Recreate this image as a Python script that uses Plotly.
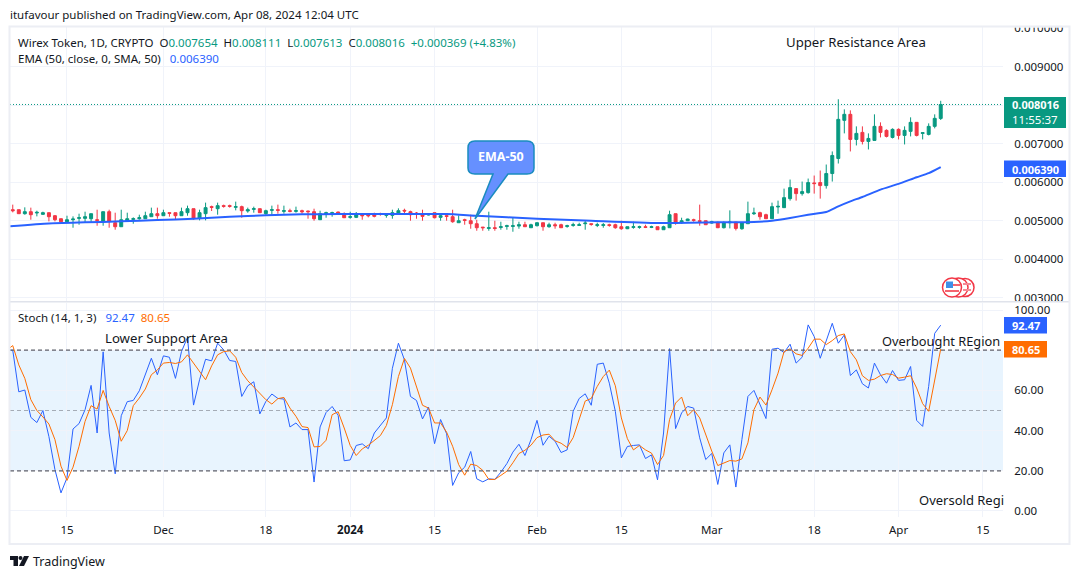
#!/usr/bin/env python3
import pandas as pd
import plotly.graph_objects as go
from plotly.subplots import make_subplots

W, H = 1080, 579
FONT = "Noto Sans"
GREEN = "#089981"
RED = "#f23645"
BLUE = "#2962ff"
ORANGE = "#ff6d00"
TEXT = "#131722"
GRID = "#f0f3fa"

# daily candles, prices in thousandths
open_k = [
    5.286, 5.286, 5.182, 5.234, 5.2, 5.165, 5.208, 5.13, 5.052, 4.974,
    5.026, 5.061, 5.061, 5.052, 5.026, 4.983, 5.234, 4.948, 4.844, 4.991,
    5.035, 5.052, 5.052, 5.104, 5.182, 5.13, 5.208, 5.208, 5.13, 5.208,
    5.312, 5.061, 5.182, 5.365, 5.312, 5.391, 5.391, 5.347, 5.365, 5.252,
    5.295, 5.312, 5.182, 5.269, 5.286, 5.243, 5.26, 5.243, 5.26, 5.252,
    5.234, 5.026, 5.174, 5.182, 5.226, 5.182, 5.087, 5.087, 5.148, 5.148,
    5.165, 5.182, 5.139, 5.139, 5.182, 5.269, 5.234, 5.2, 5.182, 5.148,
    5.208, 5.087, 5.13, 5.104, 4.948, 5.026, 5.0, 4.922, 4.835, 4.8,
    4.818, 4.826, 4.852, 4.852, 4.861, 4.896, 4.818, 4.87, 4.948, 4.844,
    4.896, 4.896, 4.852, 4.878, 4.878, 4.922, 4.922, 4.878, 4.878, 4.896,
    4.896, 4.844, 4.792, 4.826, 4.826, 4.844, 4.826, 4.844, 4.766, 4.818,
    5.182, 4.948, 5.0, 5.026, 5.0, 5.0, 4.939, 4.957, 4.818, 4.948,
    4.965, 4.792, 4.922, 5.182, 5.208, 5.156, 5.052, 5.356, 5.339, 5.573,
    5.833, 5.703, 5.729, 5.981, 5.99, 5.911, 6.224, 6.615, 7.604, 7.76,
    7.109, 7.292, 7.057, 7.083, 7.448, 7.344, 7.161, 7.37, 7.213, 7.318,
    7.552, 7.265, 7.239, 7.448, 7.654,
]
high_k = [
    5.417, 5.286, 5.347, 5.339, 5.26, 5.234, 5.208, 5.148, 5.052, 5.13,
    5.113, 5.182, 5.234, 5.182, 5.286, 5.234, 5.286, 5.208, 5.286, 5.208,
    5.087, 5.156, 5.234, 5.339, 5.339, 5.286, 5.208, 5.208, 5.339, 5.391,
    5.312, 5.286, 5.469, 5.391, 5.469, 5.417, 5.417, 5.495, 5.391, 5.339,
    5.365, 5.312, 5.286, 5.391, 5.417, 5.391, 5.312, 5.365, 5.286, 5.26,
    5.312, 5.26, 5.234, 5.234, 5.234, 5.217, 5.234, 5.226, 5.2, 5.2,
    5.208, 5.208, 5.2, 5.286, 5.321, 5.312, 5.26, 5.226, 5.286, 5.2,
    5.208, 5.182, 5.174, 5.286, 5.139, 5.052, 5.156, 5.026, 4.835, 5.234,
    5.0, 4.974, 4.896, 5.078, 4.974, 4.974, 4.922, 4.957, 4.948, 4.948,
    4.948, 4.922, 4.896, 4.948, 4.948, 5.009, 4.922, 4.948, 4.939, 4.922,
    4.922, 5.0, 4.844, 4.974, 4.87, 4.896, 4.87, 4.844, 4.87, 5.26,
    5.182, 5.078, 5.052, 5.052, 5.417, 5.0, 5.0, 4.974, 4.983, 5.269,
    4.965, 4.965, 5.495, 5.339, 5.234, 5.182, 5.469, 5.521, 5.833, 6.068,
    5.833, 6.016, 6.094, 6.172, 6.302, 6.458, 6.797, 8.151, 7.89, 7.864,
    7.448, 7.448, 7.266, 7.76, 7.552, 7.37, 7.396, 7.396, 7.448, 7.682,
    7.552, 7.292, 7.526, 7.76, 8.111,
]
low_k = [
    5.217, 5.182, 5.156, 5.026, 5.113, 5.156, 4.983, 4.983, 4.974, 4.957,
    4.818, 4.896, 4.957, 4.957, 4.87, 4.87, 4.818, 4.766, 4.844, 4.983,
    4.922, 5.026, 5.052, 5.104, 5.052, 5.13, 5.104, 5.043, 5.13, 5.13,
    5.026, 5.009, 5.009, 5.252, 5.156, 5.339, 5.339, 5.269, 5.078, 5.208,
    5.208, 5.208, 5.156, 5.156, 5.182, 5.182, 5.217, 5.208, 5.182, 5.052,
    5.0, 5.026, 5.078, 5.104, 5.156, 5.069, 5.052, 5.069, 5.026, 5.087,
    5.087, 5.13, 5.078, 5.052, 5.165, 5.182, 5.0, 5.052, 5.0, 5.139,
    5.061, 5.0, 5.0, 4.948, 4.948, 4.896, 4.792, 4.74, 4.74, 4.74,
    4.74, 4.766, 4.766, 4.714, 4.792, 4.844, 4.818, 4.852, 4.74, 4.818,
    4.792, 4.818, 4.818, 4.844, 4.87, 4.766, 4.87, 4.835, 4.818, 4.844,
    4.792, 4.766, 4.783, 4.792, 4.792, 4.809, 4.809, 4.766, 4.766, 4.818,
    4.896, 4.922, 4.991, 4.974, 4.87, 4.896, 4.922, 4.809, 4.8, 4.8,
    4.748, 4.766, 4.922, 5.148, 5.026, 5.052, 5.052, 5.182, 5.339, 5.521,
    5.521, 5.651, 5.703, 5.703, 5.573, 5.833, 6.016, 6.484, 7.266, 6.797,
    6.953, 6.979, 6.849, 7.083, 7.161, 7.161, 7.135, 7.109, 6.979, 7.187,
    7.187, 7.109, 7.213, 7.396, 7.613,
]
close_k = [
    5.26, 5.182, 5.234, 5.156, 5.217, 5.208, 5.104, 5.026, 4.974, 5.026,
    5.043, 5.078, 5.104, 5.182, 5.009, 5.234, 4.983, 4.844, 5.026, 5.052,
    5.052, 5.078, 5.13, 5.182, 5.13, 5.208, 5.191, 5.13, 5.234, 5.312,
    5.052, 5.208, 5.339, 5.347, 5.391, 5.373, 5.373, 5.365, 5.26, 5.286,
    5.312, 5.208, 5.26, 5.286, 5.269, 5.26, 5.243, 5.26, 5.234, 5.234,
    5.052, 5.182, 5.208, 5.208, 5.2, 5.078, 5.104, 5.148, 5.13, 5.13,
    5.113, 5.165, 5.156, 5.208, 5.26, 5.252, 5.156, 5.182, 5.113, 5.165,
    5.078, 5.13, 5.113, 4.974, 5.0, 5.009, 4.922, 4.818, 4.818, 4.818,
    4.8, 4.844, 4.87, 4.87, 4.896, 4.844, 4.896, 4.948, 4.844, 4.896,
    4.87, 4.818, 4.87, 4.896, 4.896, 4.939, 4.905, 4.896, 4.896, 4.878,
    4.818, 4.792, 4.844, 4.844, 4.844, 4.826, 4.844, 4.766, 4.844, 5.156,
    4.948, 5.0, 5.043, 5.009, 4.983, 4.896, 4.974, 4.818, 4.939, 4.965,
    4.8, 4.939, 5.182, 5.2, 5.104, 5.052, 5.365, 5.373, 5.599, 5.859,
    5.703, 5.755, 5.99, 5.963, 5.911, 6.224, 6.693, 7.63, 7.76, 7.109,
    7.266, 7.057, 7.135, 7.448, 7.292, 7.187, 7.37, 7.213, 7.344, 7.552,
    7.213, 7.283, 7.448, 7.656, 8.016,
]

# EMA read at these days after Nov 5 (the line runs in from the left edge)
ema_at = [0, 7, 13, 19, 25, 31, 37, 43, 49, 55, 61, 67, 73, 78, 88, 97, 108, 118,
          124, 127, 130, 133, 136, 138, 140, 142, 145, 148, 151, 153, 155]
ema_k = [4.853, 4.93, 4.957, 4.983, 5.017, 5.052, 5.104, 5.139, 5.165, 5.174, 5.174, 5.174, 5.174,
         5.13, 5.052, 5.0, 4.939, 4.957, 4.965, 5.0, 5.07, 5.156, 5.226, 5.373, 5.503, 5.616,
         5.807, 5.955, 6.128, 6.233, 6.39]

# stochastic, one value per day from Nov 5
stoch_k = [
    80, 80, 59.3, 60.2, 46.6, 44, 50, 37, 20.6, 9, 16.5,
    40.8, 43.5, 50.4, 62.5, 38.8, 79.2, 38.8, 18.5, 47.4, 54.4,
    55, 59.8, 67.8, 76, 67.8, 77.2, 76.5, 66, 79.3, 86.4,
    52.7, 65.3, 75.5, 74.7, 83.5, 80.2, 74.9, 74.4, 57, 62.3,
    64.3, 48.3, 54.5, 58.2, 56, 55.7, 41.8, 43.8, 40.5, 40.5,
    14.4, 41.8, 49, 52, 47.6, 25, 25.4, 32.6, 33.4, 31,
    38.8, 42.5, 46.3, 71, 83.5, 75.2, 57, 55, 45.8, 51.7,
    33.5, 45.5, 38.4, 12.7, 19, 21.8, 29.6, 16, 14.5, 16,
    15.7, 19.3, 23.6, 29.3, 33.2, 27.6, 35.5, 45.1, 32.7, 37.2,
    34.7, 29.1, 30.4, 49.6, 56, 58.3, 52.6, 73, 73.6, 63.6,
    49.6, 26.4, 32.1, 32.6, 32.9, 26.1, 27.9, 15.5, 38.8, 80.8,
    41, 48.8, 52, 51.2, 36.4, 25.6, 28.6, 13.2, 28.9, 32.9,
    11.9, 35.5, 57, 60, 52.9, 46, 80.5, 81, 78.8, 83,
    73.6, 76.5, 92.6, 86.8, 76, 84.3, 93.4, 83.5, 87.6, 67.4,
    70.2, 63.3, 61.2, 73.6, 67.8, 63.6, 69.9, 65, 65.3, 71.9,
    45.1, 42.1, 62, 88.4, 92.47,
]
stoch_d = [
    80, 82.3, 72.7, 66, 55.4, 50, 46.8, 43.3, 35.5, 22.3, 15.2,
    21.8, 32.2, 44.6, 52.4, 50.7, 60, 52, 45.1, 34.7, 40,
    52.4, 56.2, 60.7, 67.8, 70.2, 73.6, 73.9, 73.4, 74.2, 77.7,
    73.6, 69.9, 65.3, 72.2, 77.7, 79.3, 79.7, 76.5, 68.9, 64.8,
    61.7, 58.3, 55.4, 53.2, 55.9, 56.5, 51.2, 47.1, 42, 41.5,
    31.9, 32.1, 35.2, 47.9, 49.4, 41.3, 32.6, 27.6, 30.9, 32.7,
    35, 37.5, 42.5, 52.9, 66.9, 75.9, 71.1, 62, 52.6, 51.2,
    43.8, 43.8, 39.2, 32.2, 23.1, 17.8, 23.3, 22.6, 20.2, 15.7,
    15.7, 17.7, 19.8, 24, 28.6, 30.2, 32.7, 36.5, 37.8, 38.2,
    34.9, 33.7, 31.6, 36.5, 45.5, 54.7, 56, 62, 66.9, 70.1,
    62.3, 46.3, 36, 30.4, 32.6, 30.4, 28.8, 23.1, 27.6, 45.5,
    53.7, 56.7, 47.4, 50.4, 46.3, 38, 29.8, 22.6, 23.9, 25.1,
    24.8, 25.9, 33.9, 50.4, 56.7, 52.7, 60.3, 68.6, 79.3, 80.7,
    78.2, 77.4, 81, 85.5, 85.5, 82.8, 84.8, 87.3, 88.1, 79.3,
    75.2, 67.3, 65, 65.6, 67.4, 68.3, 67.9, 66.1, 66.6, 67.3,
    61.2, 53.4, 49.6, 65.3, 80.65,
]

dates = pd.date_range("2023-11-06", periods=len(close_k), freq="D")
line_dates = pd.date_range("2023-11-05", periods=len(stoch_k), freq="D")

x_tick_dates = ["2023-11-15", "2023-12-01", "2023-12-18", "2024-01-01", "2024-01-15", "2024-02-01",
                "2024-02-15", "2024-03-01", "2024-03-18", "2024-04-01", "2024-04-15"]
x_tick_labels = ["15", "Dec", "18", "<b>2024</b>", "15", "Feb", "15", "Mar", "18", "Apr", "15"]
# labels under the price tags stay empty, their gridlines stay
price_ticks = [0.003, 0.004, 0.005, 0.006, 0.007, 0.008, 0.009, 0.010]
price_tick_labels = ["0.003000", "0.004000", "0.005000", "0.006000", "0.007000", "", "0.009000", "0.010000"]
stoch_ticks = [0, 20, 40, 60, 80, 100]
stoch_tick_labels = ["0.00", "20.00", "40.00", "60.00", "", "100.00"]


def k2p(vals):
    return [v / 1000 for v in vals]


def px(x):
    return x / W


def py(y):
    return 1 - y / H


def label(x, y, text, size=11.5, color=TEXT, anchor="left"):
    return dict(xref="paper", yref="paper", x=px(x - 1), y=py(y), text=text, showarrow=False,
                xanchor=anchor, yanchor="middle", align="left", borderpad=0,
                font=dict(family=FONT, size=size, color=color))


def rect(x0, y0, x1, y1, fill=None, line=None, lw=1):
    return dict(type="rect", xref="paper", yref="paper", x0=px(x0), x1=px(x1), y0=py(y0), y1=py(y1),
                fillcolor=fill or "rgba(0,0,0,0)", line=dict(color=line or "rgba(0,0,0,0)", width=lw if line else 0),
                layer="above")


def path(points, fill, line=None, lw=1):
    d = "M " + " L ".join(f"{px(x):.5f} {py(y):.5f}" for x, y in points) + " Z"
    return dict(type="path", xref="paper", yref="paper", path=d, fillcolor=fill,
                line=dict(color=line or "rgba(0,0,0,0)", width=lw if line else 0), layer="above")


def circle(cx, cy, r, fill, line=None, lw=1):
    return dict(type="circle", xref="paper", yref="paper", x0=px(cx - r), x1=px(cx + r), y0=py(cy + r), y1=py(cy - r),
                fillcolor=fill, line=dict(color=line or "rgba(0,0,0,0)", width=lw if line else 0), layer="above")


def span(text, color):
    return f'<span style="color:{color}">{text}</span>'


fig = make_subplots(rows=2, cols=1, shared_xaxes=True)

fig.add_trace(go.Candlestick(
    x=dates, open=k2p(open_k), high=k2p(high_k), low=k2p(low_k), close=k2p(close_k),
    increasing=dict(line=dict(color=GREEN, width=1), fillcolor=GREEN),
    decreasing=dict(line=dict(color=RED, width=1), fillcolor=RED),
    whiskerwidth=0, showlegend=False, hoverinfo="skip",
), row=1, col=1)
fig.add_trace(go.Scatter(
    x=line_dates[ema_at], y=k2p(ema_k), mode="lines",
    line=dict(color=BLUE, width=2, shape="spline", smoothing=0.5), showlegend=False, hoverinfo="skip",
), row=1, col=1)
fig.add_trace(go.Scatter(
    x=line_dates, y=stoch_k, mode="lines", line=dict(color=BLUE, width=1), showlegend=False, hoverinfo="skip",
), row=2, col=1)
fig.add_trace(go.Scatter(
    x=line_dates, y=stoch_d, mode="lines", line=dict(color=ORANGE, width=1), showlegend=False, hoverinfo="skip",
), row=2, col=1)

x_range = ["2023-11-05 13:00", "2024-04-18 08:00"]
x_common = dict(range=x_range, tickmode="array", tickvals=x_tick_dates, ticktext=x_tick_labels,
                domain=[px(10), px(1003)], showgrid=True, gridcolor=GRID, gridwidth=1, zeroline=False,
                showline=False, rangeslider=dict(visible=False), automargin=False)
fig.update_xaxes(**x_common, showticklabels=False, row=1, col=1)
fig.update_xaxes(**x_common, showticklabels=True, ticks="outside", ticklen=2, tickcolor="rgba(0,0,0,0)",
                 tickfont=dict(family=FONT, size=11.5, color=TEXT), row=2, col=1)
fig.update_yaxes(side="right", range=[0.002917, 0.010026], domain=[py(301), py(27)], tickmode="array",
                 tickvals=price_ticks, ticktext=price_tick_labels, showgrid=True, gridcolor=GRID, zeroline=False,
                 showline=False, ticks="outside", ticklen=8, tickcolor="rgba(0,0,0,0)", automargin=False,
                 tickfont=dict(family=FONT, size=11.5, color=TEXT), row=1, col=1)
fig.update_yaxes(side="right", range=[-3, 103.5], domain=[py(517), py(303)], tickmode="array",
                 tickvals=stoch_ticks, ticktext=stoch_tick_labels, showgrid=True, gridcolor=GRID, zeroline=False,
                 showline=False, ticks="outside", ticklen=8, tickcolor="rgba(0,0,0,0)", automargin=False,
                 tickfont=dict(family=FONT, size=11.5, color=TEXT), row=2, col=1)

shapes = [
    # stochastic band and levels
    dict(type="rect", xref="x2 domain", yref="y2", x0=0, x1=1, y0=20, y1=80,
         fillcolor="rgba(33,150,243,0.1)", line=dict(width=0), layer="below"),
    dict(type="line", xref="x2 domain", yref="y2", x0=0, x1=1, y0=80, y1=80,
         line=dict(color="#5d606b", width=1.2, dash="4px,3px"), layer="above"),
    dict(type="line", xref="x2 domain", yref="y2", x0=0, x1=1, y0=50, y1=50,
         line=dict(color="rgba(120,123,134,0.6)", width=1, dash="4px,3px"), layer="below"),
    dict(type="line", xref="x2 domain", yref="y2", x0=0, x1=1, y0=20, y1=20,
         line=dict(color="#5d606b", width=1.2, dash="4px,3px"), layer="above"),
    # last price line
    dict(type="line", xref="x domain", yref="y", x0=0, x1=1, y0=close_k[-1] / 1000, y1=close_k[-1] / 1000,
         line=dict(color=GREEN, width=1, dash="1px,2px"), layer="above"),
    # clip the lowest price label at the pane edge, pane separator, outer frame
    rect(1004, 301, 1068, 306, fill="white"),
    rect(1004, 20, 1068, 27.5, fill="white"),
    rect(10, 301, 1069, 302.5, fill="#e0e3eb"),
    rect(9.5, 26.5, 1069.5, 544, line="#eceef4", lw=2),
    # price tags on the right
    rect(1004, 97, 1066, 128, fill=GREEN),
    rect(1004, 160.5, 1066, 177, fill=BLUE),
    rect(1004, 317, 1047, 333.5, fill=BLUE),
    rect(1004, 341, 1047, 357.5, fill=ORANGE),
    # callout
    dict(type="path", xref="paper", yref="paper", layer="above",
         path=(f"M {px(475):.5f} {py(141):.5f} L {px(527):.5f} {py(141):.5f} "
               f"Q {px(534):.5f} {py(141):.5f} {px(534):.5f} {py(148):.5f} L {px(534):.5f} {py(168):.5f} "
               f"Q {px(534):.5f} {py(174):.5f} {px(527):.5f} {py(174):.5f} L {px(508):.5f} {py(174):.5f} "
               f"L {px(475):.5f} {py(219):.5f} L {px(493):.5f} {py(174):.5f} L {px(475):.5f} {py(174):.5f} "
               f"Q {px(468):.5f} {py(174):.5f} {px(468):.5f} {py(168):.5f} L {px(468):.5f} {py(148):.5f} "
               f"Q {px(468):.5f} {py(141):.5f} {px(475):.5f} {py(141):.5f} Z"),
         fillcolor="#6690ff", line=dict(color="#1a8cbf", width=1.5)),
    # currency badges
    circle(965, 287.5, 9, "white", RED, 1.5),
    circle(958.5, 287.5, 9.5, "white", RED, 1.5),
    rect(963, 283, 971, 285, fill="#f58a95"),
    rect(963, 289, 971, 291, fill="#f58a95"),
    circle(952, 287.5, 9.5, "white", RED, 1.5),
    rect(953, 284, 960, 286, fill="#f4636f"),
    rect(945, 290, 959, 292, fill="#f4636f"),
    rect(946, 281.5, 953, 288, fill="#3f8fe8"),
    # logo
    path([(10, 556), (18, 556), (18, 566), (13.5, 566), (13.5, 560), (10, 560)], TEXT),
    circle(20.5, 558, 2, TEXT),
    path([(24, 556), (29, 556), (24, 566), (19, 566)], TEXT),
]

header = (
    "Wirex Token, 1D, CRYPTO  O" + span("0.007654", GREEN) + "  H" + span("0.008111", GREEN)
    + "  L" + span("0.007613", GREEN) + "  C" + span("0.008016", GREEN)
    + "  " + span("+0.000369 (+4.83%)", GREEN)
)
annotations = [
    label(10, 15, "itufavour published on TradingView.com, Apr 08, 2024 12:04 UTC"),
    label(18, 42, header),
    label(18, 59, "EMA (50, close, 0, SMA, 50)&nbsp;&nbsp;&nbsp;" + span("0.006390", BLUE)),
    label(18, 317, "Stoch (14, 1, 3)&nbsp;&nbsp;&nbsp;" + span("92.47", BLUE) + "  " + span("80.65", ORANGE)),
    label(786, 42, "Upper Resistance Area", size=13.2),
    label(105, 338, "Lower Support Area", size=13.2),
    label(882, 341, "Overbought REgion", size=12.8),
    label(919, 500, "Oversold Regi", size=13),
    label(502, 157, "<b>EMA-50</b>", size=12.5, color="white", anchor="center"),
    label(1012, 105, "<b>0.008016</b>", size=11, color="white"),
    label(1012, 119, "11:55:37", size=11.5, color="white"),
    label(1012, 169, "<b>0.006390</b>", size=11, color="white"),
    label(1012, 325, "<b>92.47</b>", size=11, color="white"),
    label(1012, 349, "<b>80.65</b>", size=11, color="white"),
    label(33, 561, "TradingView", size=12.5),
]

fig.update_layout(
    width=W, height=H, margin=dict(l=0, r=0, t=0, b=0), autosize=False,
    paper_bgcolor="white", plot_bgcolor="white",
    font=dict(family=FONT, size=12, color=TEXT),
    showlegend=False, shapes=shapes, annotations=annotations,
    hovermode=False,
)

fig.write_html("out.html", post_script="document.body.style.margin='0';", config=dict(displayModeBar=False))
